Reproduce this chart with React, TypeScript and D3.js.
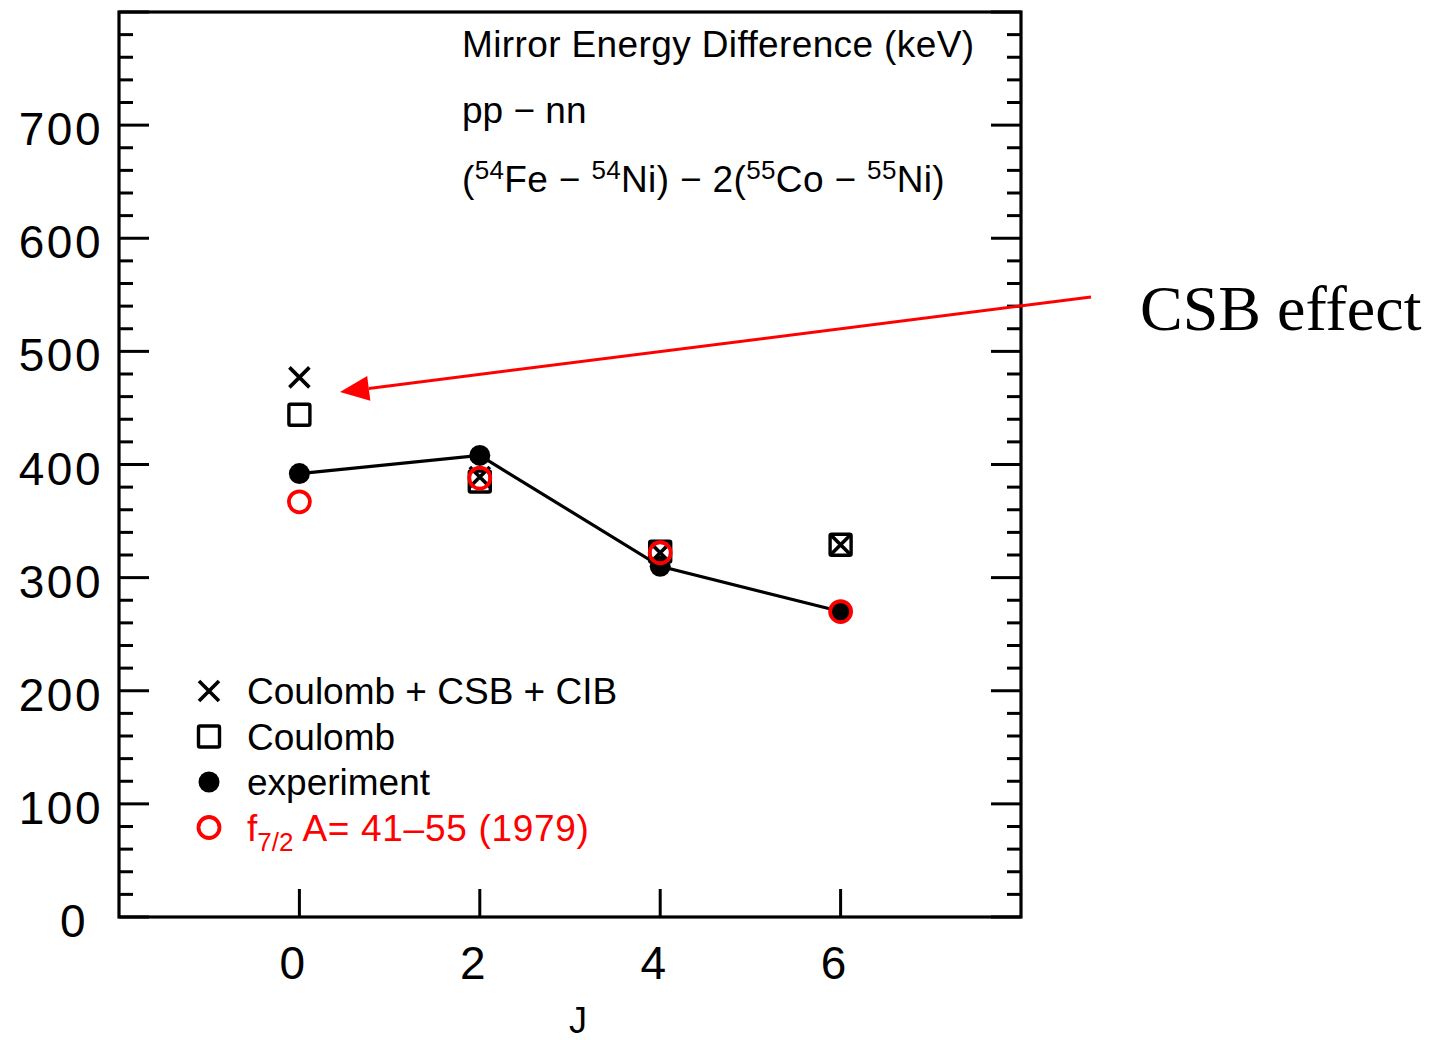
import React from "react";
import * as d3 from "d3";

// Mirror energy differences (keV) versus angular momentum J
const spins = [0, 2, 4, 6];
const coulombCsbCib = [477, 389, 322, 329];
const coulombOnly = [444, 385, 323, 329];
const experiment = [392, 408, 310, 270];
const f72Fit = [367, 388, 322, 270];

const yTickLabels = [0, 100, 200, 300, 400, 500, 600, 700];
const xTickLabels = [0, 2, 4, 6];

const legendItems = [
  { key: "cross", label: "Coulomb + CSB + CIB" },
  { key: "square", label: "Coulomb" },
  { key: "dot", label: "experiment" },
  { key: "ring", label: "f7/2" },
];

const W = 1443;
const H = 1040;
const FONT = "'Liberation Sans', Arial, Helvetica, sans-serif";
const RED = "#ff0000";

function Cross({ cx, cy, s }: { cx: number; cy: number; s: number }) {
  return (
    <path
      d={`M${cx - s},${cy - s}L${cx + s},${cy + s}M${cx - s},${cy + s}L${cx + s},${cy - s}`}
      stroke="#000"
      strokeWidth={3.6}
      fill="none"
    />
  );
}

function Square({ cx, cy, s }: { cx: number; cy: number; s: number }) {
  return (
    <rect x={cx - s} y={cy - s} width={2 * s} height={2 * s} rx={1.5}
      fill="none" stroke="#000" strokeWidth={3.4} />
  );
}

export default function App() {
  const x = d3.scaleLinear().domain([-2, 8]).range([119, 1021]);
  const y = d3.scaleLinear().domain([0, 800]).range([917, 12]);

  const [x0, x1] = x.range();
  const [y0, y1] = y.range();

  const minorTicks = d3.range(0, 801, 20);

  const line = d3
    .line<number>()
    .x((_, i) => x(spins[i]))
    .y((d) => y(d));

  // arrow pointing at the J=0 theory points
  const arrowTip = { px: x(0.45), py: y(464) };
  const arrowStart = { px: 1091, py: 297 };
  const ang = Math.atan2(arrowTip.py - arrowStart.py, arrowTip.px - arrowStart.px);
  const headLen = 29;
  const headHalf = 12.5;
  const bx = arrowTip.px - headLen * Math.cos(ang);
  const by = arrowTip.py - headLen * Math.sin(ang);
  const nx = -Math.sin(ang);
  const ny = Math.cos(ang);
  const head = `M${arrowTip.px},${arrowTip.py}L${bx + nx * headHalf},${by + ny * headHalf}L${bx - nx * headHalf},${by - ny * headHalf}Z`;

  const legendX = 209;
  const legendTextX = 247;
  const legendY0 = 691;
  const legendDy = 45.5;

  return (
    <svg
      width={W}
      height={H}
      viewBox={`0 0 ${W} ${H}`}
      style={{ position: "absolute", left: 0, top: 0, background: "#fff" }}
    >
      <rect x={0} y={0} width={W} height={H} fill="#fff" />

      {/* y ticks, both sides, pointing inward */}
      <g stroke="#000" strokeWidth={3}>
        {minorTicks.map((v) => {
          const major = v % 100 === 0;
          const len = major ? 30 : 14;
          return (
            <g key={v}>
              <line x1={x0} x2={x0 + len} y1={y(v)} y2={y(v)} />
              <line x1={x1} x2={x1 - len} y1={y(v)} y2={y(v)} />
            </g>
          );
        })}
        {xTickLabels.map((v) => (
          <line key={v} x1={x(v)} x2={x(v)} y1={y0} y2={y0 - 28} />
        ))}
      </g>

      {/* frame */}
      <rect x={x0} y={y1} width={x1 - x0} height={y0 - y1} fill="none" stroke="#000" strokeWidth={3.2} />

      {/* y tick labels */}
      <g fontFamily={FONT} fontSize={46} fill="#000" textAnchor="end" letterSpacing={2.5}>
        {yTickLabels.map((v) => (
          <text key={v} x={v === 0 ? 88 : 103} y={y(v) + 20}>
            {v}
          </text>
        ))}
      </g>

      {/* x tick labels */}
      <g fontFamily={FONT} fontSize={46} fill="#000" textAnchor="middle">
        {xTickLabels.map((v) => (
          <text key={v} x={x(v) - 7} y={979}>
            {v}
          </text>
        ))}
      </g>
      <text x={578} y={1033} fontFamily={FONT} fontSize={36} textAnchor="middle">
        J
      </text>

      {/* annotation */}
      <g fontFamily={FONT} fontSize={37} fill="#000">
        <text x={462} y={57} letterSpacing={0.38}>Mirror Energy Difference (keV)</text>
        <text x={462} y={123}>pp {"\u2212"} nn</text>
        <text x={462} y={192} letterSpacing={0.35}>
          (<tspan fontSize={26} dy={-13}>54</tspan>
          <tspan dy={13}>Fe {"\u2212"} </tspan>
          <tspan fontSize={26} dy={-13}>54</tspan>
          <tspan dy={13}>Ni) {"\u2212"} 2(</tspan>
          <tspan fontSize={26} dy={-13}>55</tspan>
          <tspan dy={13}>Co {"\u2212"} </tspan>
          <tspan fontSize={26} dy={-13}>55</tspan>
          <tspan dy={13}>Ni)</tspan>
        </text>
      </g>

      {/* experiment line */}
      <path d={line(experiment) || ""} fill="none" stroke="#000" strokeWidth={3.2} />

      {/* Coulomb squares */}
      {coulombOnly.map((v, i) => (
        <Square key={`s${i}`} cx={x(spins[i])} cy={y(v)} s={10.5} />
      ))}
      {/* Coulomb + CSB + CIB crosses */}
      {coulombCsbCib.map((v, i) => (
        <Cross key={`c${i}`} cx={x(spins[i])} cy={y(v)} s={10} />
      ))}
      {/* experiment dots */}
      {experiment.map((v, i) => (
        <circle key={`e${i}`} cx={x(spins[i])} cy={y(v)} r={10.5} fill="#000" />
      ))}
      {/* f7/2 open circles */}
      {f72Fit.map((v, i) => (
        <circle key={`f${i}`} cx={x(spins[i])} cy={y(v)} r={10.5} fill="none" stroke={RED} strokeWidth={3.8} />
      ))}

      {/* legend */}
      {legendItems.map((it, i) => {
        const cy = legendY0 + i * legendDy;
        let mark: React.ReactNode = null;
        if (it.key === "cross") mark = <Cross cx={legendX} cy={cy} s={10} />;
        if (it.key === "square") mark = <Square cx={legendX} cy={cy} s={10.5} />;
        if (it.key === "dot") mark = <circle cx={legendX} cy={cy} r={10.5} fill="#000" />;
        if (it.key === "ring")
          mark = <circle cx={legendX} cy={cy} r={10.5} fill="none" stroke={RED} strokeWidth={3.8} />;
        return (
          <g key={it.key}>
            {mark}
            {it.key === "ring" ? (
              <text x={legendTextX} y={cy + 13} fontFamily={FONT} fontSize={37} fill={RED}>
                f<tspan fontSize={26} dy={10}>7/2</tspan>
                <tspan dy={-10} letterSpacing={0.7}> A= 41{"\u2013"}55 (1979)</tspan>
              </text>
            ) : (
              <text x={legendTextX} y={cy + 13} fontFamily={FONT} fontSize={37} fill="#000">
                {it.label}
              </text>
            )}
          </g>
        );
      })}

      {/* CSB effect arrow */}
      <line x1={arrowStart.px} y1={arrowStart.py} x2={bx} y2={by} stroke={RED} strokeWidth={3} />
      <path d={head} fill={RED} />
      <text x={1140} y={330} fontFamily="'Liberation Serif', 'Times New Roman', serif" fontSize={64} fill="#000">
        CSB effect
      </text>
    </svg>
  );
}
